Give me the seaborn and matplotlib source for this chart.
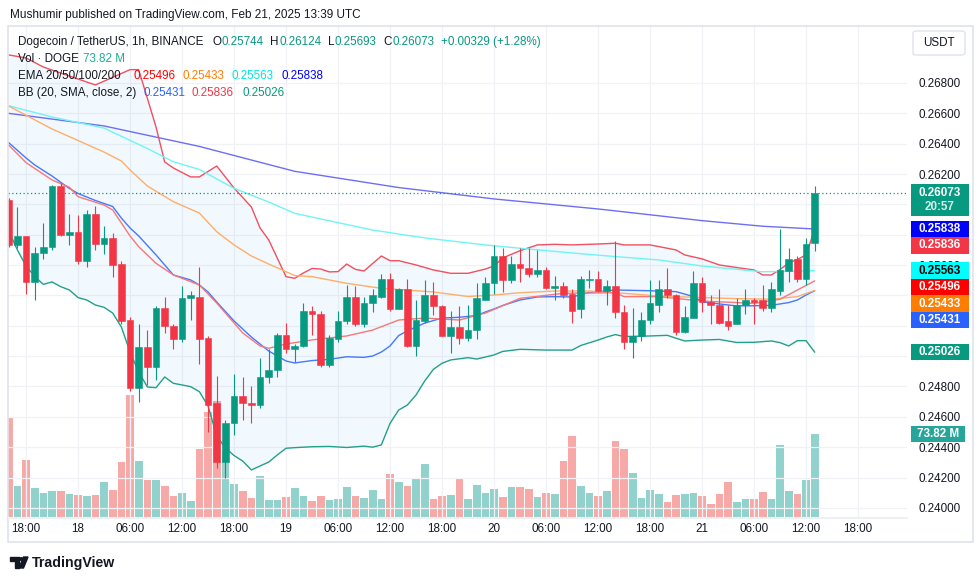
import numpy as np
import pandas as pd
import matplotlib
matplotlib.use("Agg")
import matplotlib.pyplot as plt
import matplotlib.patches as mpatches
import seaborn as sns

# ---------------- data ----------------
# candle index: 0 = Feb 17 18:00 (1h candles), first visible candle at 16:00
start_hour = -2
opens = [0.2603, 0.2573, 0.2579, 0.2549, 0.2568, 0.2572, 0.2612, 0.2580, 0.2582, 0.2563,
         0.2594, 0.2574, 0.2578, 0.2561, 0.2524, 0.2479, 0.2506, 0.2493, 0.2532, 0.2520,
         0.2511, 0.2538, 0.2539, 0.2512, 0.2469, 0.2430, 0.2456, 0.2474, 0.2469, 0.2468,
         0.2486, 0.2491, 0.2514, 0.2505, 0.2507, 0.2530, 0.2528, 0.2494, 0.2511, 0.2523,
         0.2539, 0.2521, 0.2535, 0.2539, 0.2551, 0.2531, 0.2544, 0.2507, 0.2523, 0.2540,
         0.2533, 0.2513, 0.2519, 0.2512, 0.2517, 0.2537, 0.2548, 0.2566, 0.2550, 0.2561,
         0.2558, 0.2554, 0.2557, 0.2545, 0.2546, 0.2541, 0.2531, 0.2550, 0.2551, 0.2543,
         0.2546, 0.2529, 0.2509, 0.2513, 0.2524, 0.2534, 0.2544, 0.2540, 0.2516, 0.2525,
         0.2548, 0.2536, 0.2534, 0.2523, 0.2521, 0.2534, 0.2537, 0.2537, 0.2532, 0.2543,
         0.2556, 0.2564, 0.2551, 0.25744]
highs = [0.2604, 0.2598, 0.2579, 0.2572, 0.2588, 0.2613, 0.2614, 0.2594, 0.2593, 0.2596,
         0.2599, 0.2586, 0.2581, 0.2563, 0.2526, 0.2521, 0.2517, 0.2533, 0.2539, 0.2521,
         0.2546, 0.2543, 0.2559, 0.2513, 0.2487, 0.2458, 0.2488, 0.2486, 0.2480, 0.2499,
         0.2505, 0.2515, 0.2522, 0.2508, 0.2535, 0.2533, 0.2530, 0.2514, 0.2530, 0.2547,
         0.2546, 0.2539, 0.2544, 0.2554, 0.2555, 0.2545, 0.2551, 0.2537, 0.2550, 0.2549,
         0.2534, 0.2530, 0.2533, 0.2534, 0.2548, 0.2552, 0.2573, 0.2571, 0.2566, 0.2571,
         0.2571, 0.2570, 0.2559, 0.2553, 0.2549, 0.2544, 0.2553, 0.2557, 0.2556, 0.2550,
         0.2576, 0.2534, 0.2532, 0.2529, 0.2550, 0.2550, 0.2558, 0.2541, 0.2533, 0.2556,
         0.2552, 0.2540, 0.2544, 0.2534, 0.2538, 0.2544, 0.2538, 0.2547, 0.2549, 0.2584,
         0.2571, 0.2566, 0.2578, 0.26124]
lows = [0.2572, 0.2571, 0.2541, 0.2537, 0.2564, 0.2570, 0.2579, 0.2573, 0.2561, 0.2559,
        0.2570, 0.2567, 0.2552, 0.2521, 0.2477, 0.2470, 0.2481, 0.2484, 0.2515, 0.2505,
        0.2509, 0.2524, 0.2495, 0.2450, 0.2426, 0.2420, 0.2448, 0.2458, 0.2456, 0.2466,
        0.2482, 0.2486, 0.2502, 0.2496, 0.2506, 0.2514, 0.2493, 0.2493, 0.2509, 0.2521,
        0.2520, 0.2519, 0.2529, 0.2538, 0.2530, 0.2531, 0.2506, 0.2500, 0.2522, 0.2527,
        0.2513, 0.2502, 0.2508, 0.2510, 0.2511, 0.2537, 0.2541, 0.2542, 0.2548, 0.2549,
        0.2552, 0.2552, 0.2544, 0.2537, 0.2538, 0.2522, 0.2525, 0.2545, 0.2542, 0.2534,
        0.2525, 0.2505, 0.2499, 0.2510, 0.2521, 0.2529, 0.2538, 0.2514, 0.2515, 0.2525,
        0.2529, 0.2521, 0.2521, 0.2517, 0.2521, 0.2528, 0.2521, 0.2530, 0.2529, 0.2540,
        0.2549, 0.2549, 0.2547, 0.25693]
closes = [0.2573, 0.2579, 0.2549, 0.2568, 0.2572, 0.2612, 0.2580, 0.2582, 0.2563, 0.2594,
          0.2574, 0.2578, 0.2560, 0.2523, 0.2479, 0.2506, 0.2493, 0.2532, 0.2520, 0.2511,
          0.2538, 0.2540, 0.2511, 0.2468, 0.2430, 0.2456, 0.2474, 0.2469, 0.2468, 0.2486,
          0.2491, 0.2514, 0.2505, 0.2507, 0.2530, 0.2528, 0.2494, 0.2512, 0.2523, 0.2539,
          0.2521, 0.2535, 0.2540, 0.2551, 0.2531, 0.2544, 0.2507, 0.2524, 0.2540, 0.2533,
          0.2513, 0.2519, 0.2512, 0.2517, 0.2538, 0.2548, 0.2566, 0.2550, 0.2561, 0.2558,
          0.2554, 0.2557, 0.2545, 0.2546, 0.2540, 0.2530, 0.2551, 0.2551, 0.2543, 0.2546,
          0.2529, 0.2509, 0.2513, 0.2524, 0.2535, 0.2544, 0.2540, 0.2516, 0.2526, 0.2548,
          0.2536, 0.2534, 0.2522, 0.2520, 0.2534, 0.2537, 0.2536, 0.2532, 0.2544, 0.2557,
          0.2564, 0.2551, 0.2574, 0.26073]
volumes_m = [87.7, 27.6, 50.7, 25.8, 21.3, 23.1, 23.1, 20.4, 19.6, 18.7,
             19.6, 31.1, 24.0, 48.9, 108.5, 49.8, 32.9, 32.9, 27.6, 18.7,
             21.3, 14.2, 60.4, 93.3, 103.1, 58.7, 29.3, 23.1, 16.9, 36.4,
             15.1, 15.1, 17.8, 25.8, 18.7, 14.2, 18.7, 15.1, 16.0, 26.7,
             18.7, 16.9, 24.0, 16.0, 38.2, 31.1, 27.6, 33.8, 47.1, 16.0,
             18.7, 19.6, 33.8, 16.0, 28.4, 21.3, 24.9, 17.8, 26.7, 26.7,
             24.9, 17.8, 21.3, 20.4, 49.8, 72.0, 27.6, 21.3, 18.7, 23.1,
             67.6, 60.4, 39.1, 16.9, 24.0, 20.4, 13.3, 19.6, 20.4, 21.3,
             18.7, 11.6, 20.4, 31.1, 13.3, 16.0, 16.0, 22.2, 16.0, 64.0,
             23.1, 20.4, 32.9, 73.82]

# EMA lines (hour index, value)
ema20_h = [-2, 0, 3, 5, 6, 9, 10, 12, 13, 15, 17, 20, 22, 25, 27, 28, 30, 33, 37, 40, 43,
           46, 50, 53, 57, 62, 68, 69, 73, 78, 84, 87, 91]
ema20_v = [0.26391, 0.26275, 0.26161, 0.26113, 0.26051, 0.25996, 0.25963, 0.25792, 0.25721,
           0.25612, 0.25535, 0.25469, 0.25350, 0.25153, 0.25067, 0.25052, 0.25080, 0.25107,
           0.25133, 0.25172, 0.25238, 0.25251, 0.25238, 0.25284, 0.25381, 0.25414, 0.25418,
           0.25392, 0.25392, 0.25363, 0.25348, 0.25375, 0.25496]
ema50_h = [-2, 3, 9, 11, 12, 14, 17, 20, 22, 24, 26, 28, 31, 33, 37, 41, 47, 51, 54, 57,
           61, 65, 69, 73, 78, 82, 86, 89, 91]
ema50_v = [0.26648, 0.26497, 0.26345, 0.26286, 0.26227, 0.26121, 0.26018, 0.25943, 0.25820,
           0.25733, 0.25660, 0.25607, 0.25531, 0.25524, 0.25480, 0.25447, 0.25423, 0.25393,
           0.25403, 0.25418, 0.25429, 0.25429, 0.25414, 0.25396, 0.25386, 0.25379, 0.25375,
           0.25392, 0.25433]
ema100_h = [-2, 3, 9, 14, 17, 20, 24, 28, 31, 40, 46, 53, 57, 63, 68, 73, 78, 85, 91]
ema100_v = [0.26650, 0.26576, 0.26503, 0.26368, 0.26281, 0.26230, 0.26106, 0.26016, 0.25941,
            0.25831, 0.25779, 0.25733, 0.25711, 0.25680, 0.25656, 0.25634, 0.25594, 0.25556,
            0.25563]
ema200_h = [-2, 9, 20, 31, 43, 54, 66, 78, 85, 91]
ema200_v = [0.26600, 0.26517, 0.26382, 0.26218, 0.26111, 0.26036, 0.25970, 0.25893, 0.25856,
            0.25838]

# Bollinger Bands (hour index, value)
bb_upper_h = [-2, 0, 2, 8, 12, 13, 15, 16, 17, 19, 20, 22, 24, 26, 27, 28, 30, 31, 32, 33,
              34, 35, 36, 37, 38, 39, 40, 41, 42, 43, 45, 47, 49, 51, 53, 54, 55, 57, 59, 61,
              63, 66, 68, 69, 72, 74, 75, 76, 78, 80, 82, 84, 85, 86, 87, 88, 89, 90, 91]
bb_upper_v = [0.26985, 0.26965, 0.26905, 0.26787, 0.26888, 0.26888, 0.26510, 0.26280, 0.26240,
              0.26181, 0.26181, 0.26253, 0.26108, 0.25983, 0.25845, 0.25766, 0.25524, 0.25513,
              0.25548, 0.25578, 0.25574, 0.25555, 0.25557, 0.25607, 0.25572, 0.25561, 0.25611,
              0.25660, 0.25629, 0.25629, 0.25601, 0.25568, 0.25546, 0.25546, 0.25574, 0.25594,
              0.25647, 0.25695, 0.25733, 0.25737, 0.25733, 0.25739, 0.25744, 0.25733, 0.25733,
              0.25711, 0.25700, 0.25667, 0.25641, 0.25601, 0.25584, 0.25568, 0.25535, 0.25535,
              0.25571, 0.25614, 0.25637, 0.25667, 0.25836]
bb_basis_h = [-2, 0, 1, 3, 5, 6, 8, 10, 11, 12, 13, 15, 17, 19, 20, 21, 22, 24, 26, 28, 30,
              31, 33, 35, 37, 39, 40, 41, 42, 43, 44, 45, 46, 48, 50, 52, 53, 54, 55, 57, 59,
              61, 63, 65, 68, 72, 75, 77, 78, 80, 82, 84, 86, 88, 89, 90, 91]
bb_basis_v = [0.26407, 0.26306, 0.26260, 0.26187, 0.26105, 0.26072, 0.26026, 0.25986, 0.25910,
              0.25845, 0.25792, 0.25667, 0.25535, 0.25502, 0.25469, 0.25423, 0.25357, 0.25232,
              0.25126, 0.25034, 0.24968, 0.24955, 0.24971, 0.24979, 0.24996, 0.24992, 0.25001,
              0.25027, 0.25067, 0.25136, 0.25166, 0.25192, 0.25218, 0.25251, 0.25256, 0.25268,
              0.25291, 0.25311, 0.25334, 0.25370, 0.25390, 0.25392, 0.25390, 0.25420, 0.25436,
              0.25431, 0.25425, 0.25393, 0.25359, 0.25344, 0.25331, 0.25332, 0.25335, 0.25353,
              0.25370, 0.25403, 0.25431]
bb_lower_h = [-2, -1, 0, 1, 2, 3, 4, 5, 6, 7, 8, 9, 10, 11, 12, 13, 14, 15, 16, 17, 18, 19,
              20, 21, 22, 23, 24, 25, 26, 27, 28, 29, 30, 31, 33, 35, 37, 39, 40, 41, 42, 43,
              44, 45, 46, 47, 48, 49, 51, 52, 53, 54, 55, 57, 60, 63, 64, 66, 67, 68, 69, 72,
              74, 75, 76, 78, 80, 82, 84, 86, 87, 88, 89, 90, 91]
bb_lower_v = [0.25825, 0.25700, 0.25594, 0.25525, 0.25473, 0.25489, 0.25458, 0.25436, 0.25386,
              0.25370, 0.25337, 0.25322, 0.25284, 0.25192, 0.25027, 0.24895, 0.24797, 0.24792,
              0.24863, 0.24821, 0.24810, 0.24799, 0.24766, 0.24672, 0.24474, 0.24395, 0.24345,
              0.24309, 0.24250, 0.24276, 0.24302, 0.24349, 0.24393, 0.24397, 0.24403, 0.24405,
              0.24398, 0.24407, 0.24400, 0.24415, 0.24557, 0.24645, 0.24678, 0.24744, 0.24836,
              0.24913, 0.24953, 0.24975, 0.24990, 0.24981, 0.24994, 0.25008, 0.25031, 0.25045,
              0.25040, 0.25040, 0.25070, 0.25106, 0.25126, 0.25142, 0.25129, 0.25133, 0.25137,
              0.25118, 0.25100, 0.25106, 0.25110, 0.25090, 0.25091, 0.25100, 0.25089, 0.25067,
              0.25102, 0.25102, 0.25026]

# texts from the chart
ema_last = ["0.25496", "0.25433", "0.25563", "0.25838"]
bb_last = ["0.25431", "0.25836", "0.25026"]
ohlc_last = ["0.25744", "0.26124", "0.25693", "0.26073"]
change_text = "+0.00329 (+1.28%)"
vol_last = "73.82 M"
countdown = "20:57"
tick_pos = list(range(0, 97, 6))
tick_labels = ["18:00", "18", "06:00", "12:00", "18:00", "19", "06:00", "12:00", "18:00",
               "20", "06:00", "12:00", "18:00", "21", "06:00", "12:00", "18:00"]
price_levels = [0.240, 0.242, 0.244, 0.246, 0.248, 0.250, 0.252, 0.254, 0.256, 0.258,
                0.260, 0.262, 0.264, 0.266, 0.268]
hidden_levels = [0.250, 0.252, 0.254, 0.258, 0.260]

# ---------------- styling ----------------
sns.set_style("white")
plt.rcParams['font.family'] = ['Liberation Sans', 'DejaVu Sans']
TXT = '#131722'
GREEN = '#089981'
RED = '#F23645'

W, H = 980, 579
fig = plt.figure(figsize=(W / 100, H / 100), dpi=100)
fig.patch.set_facecolor('white')

def fx(x):
    return x / W

def fy(y):
    return 1 - y / H

L, R, T, B = 8, 907, 27, 517
pos = [fx(L), fy(B), fx(R) - fx(L), fy(T) - fy(B)]
axv = fig.add_axes(pos)
ax = fig.add_axes(pos, sharex=axv)
ax.patch.set_visible(False)
axv.set_facecolor('white')

hours = np.arange(start_hour, start_hour + len(closes))
df = pd.DataFrame({'h': hours, 'o': opens, 'hi': highs, 'lo': lows, 'c': closes,
                   'v': np.array(volumes_m) * 1e6})
up = df['c'] >= df['o']

# volume (own scale, drawn beneath the price pane)
vcol = np.where(up, '#92D2CC', '#F7A9A7')
axv.bar(df['h'], df['v'], width=0.88, color=vcol, linewidth=0)
axv.set_ylim(0, 73.82e6 * (B - T) / 83.0)
axv.set_yticks([])
for s in axv.spines.values():
    s.set_visible(False)
axv.tick_params(axis='x', length=0, labelbottom=False)

# limits
ymin, ymax = 0.23940, 0.27169
ax.set_ylim(ymin, ymax)
ax.set_xlim(-2.08, 101.65)

# grid
for lv in price_levels:
    ax.axhline(lv, color='#F0F2F5', lw=0.9, zorder=0)
for tp in tick_pos:
    ax.axvline(tp, color='#F0F2F5', lw=0.9, zorder=0)

# BB fill + lines
poly_x = np.concatenate([bb_upper_h, bb_lower_h[::-1]])
poly_y = np.concatenate([bb_upper_v, bb_lower_v[::-1]])
ax.fill(poly_x, poly_y, color='#2196F3', alpha=0.06, lw=0, zorder=1)
sns.lineplot(x=bb_upper_h, y=bb_upper_v, ax=ax, color='#F0505F', lw=1.0, zorder=2)
sns.lineplot(x=bb_basis_h, y=bb_basis_v, ax=ax, color='#2962FF', lw=1.0, alpha=0.85, zorder=2)
sns.lineplot(x=bb_lower_h, y=bb_lower_v, ax=ax, color='#22A08A', lw=1.0, zorder=2)

# EMA lines
sns.lineplot(x=ema200_h, y=ema200_v, ax=ax, color='#6E6EF2', lw=1.0, zorder=2)
sns.lineplot(x=ema100_h, y=ema100_v, ax=ax, color='#70F4F4', lw=1.0, zorder=2)
sns.lineplot(x=ema50_h, y=ema50_v, ax=ax, color='#FFAE6A', lw=1.0, zorder=2)
sns.lineplot(x=ema20_h, y=ema20_v, ax=ax, color='#F87878', lw=1.0, zorder=2)

# candles
ccol = np.where(up, GREEN, RED)
ax.vlines(df['h'], df['lo'], df['hi'], colors=ccol, lw=0.8, zorder=3)
body_lo = np.minimum(df['o'], df['c'])
body_h = np.abs(df['c'] - df['o'])
ax.bar(df['h'], body_h, bottom=body_lo, width=0.74, color=ccol, edgecolor=ccol,
       linewidth=0.4, zorder=4)

# current price dotted line
ax.axhline(closes[-1], color=GREEN, lw=0.9, ls=(0, (1, 2)), zorder=2)

# axes cosmetics
for s in ax.spines.values():
    s.set_visible(False)
ax.set_xlabel('')
ax.set_ylabel('')
ax.yaxis.tick_right()
ax.set_yticks(price_levels)
ax.set_yticklabels(['' if lv in hidden_levels else f'{lv:.5f}' for lv in price_levels])
ax.tick_params(axis='y', length=0, pad=8.5, labelsize=8.4, labelcolor=TXT)
ax.set_xticks(tick_pos)
ax.set_xticklabels(tick_labels)
ax.tick_params(axis='x', length=0, pad=4.5, labelsize=8.4, labelcolor=TXT)
plt.setp(axv.get_xticklabels(), visible=False)

# frame around chart widget
fig.add_artist(mpatches.Rectangle((fx(8), fy(542)), fx(973) - fx(8), fy(26) - fy(542),
                                  transform=fig.transFigure, fill=False,
                                  edgecolor='#E0E3EB', lw=1.2))
fig.add_artist(mpatches.Rectangle((fx(8), fy(517.5)), fx(907) - fx(8), 0.0001,
                                  transform=fig.transFigure, fill=False,
                                  edgecolor='#EEF0F3', lw=0.8))

# price tags on the right axis
def ypix(p):
    return T + (ymax - p) / (ymax - ymin) * (B - T)

def tag(yc, text, bg, fg, x0=911, x1=969, h=16.5, size=8.4):
    fig.add_artist(mpatches.Rectangle((fx(x0), fy(yc + h / 2)), fx(x1) - fx(x0),
                                      fy(yc - h / 2) - fy(yc + h / 2),
                                      transform=fig.transFigure, color=bg, lw=0, zorder=5))
    fig.text(fx((x0 + x1) / 2), fy(yc), text, ha='center', va='center', color=fg,
             fontsize=size, fontweight='bold', zorder=6)

yc0 = ypix(closes[-1])
fig.add_artist(mpatches.Rectangle((fx(911), fy(yc0 + 22.5)), fx(969) - fx(911),
                                  fy(yc0 - 9) - fy(yc0 + 22.5), transform=fig.transFigure,
                                  color=GREEN, lw=0, zorder=5))
fig.text(fx(940), fy(yc0), ohlc_last[3], ha='center', va='center', color='white',
         fontsize=8.4, fontweight='bold', zorder=6)
fig.text(fx(940), fy(yc0 + 14), countdown, ha='center', va='center', color='#D8F0EA',
         fontsize=8.4, fontweight='bold', zorder=6)

tags = [(float(ema_last[3]), ema_last[3], '#0000FF', 'white'),
        (float(bb_last[1]), bb_last[1], RED, 'white'),
        (float(ema_last[2]), ema_last[2], '#00FFFF', 'black'),
        (float(ema_last[0]), ema_last[0], '#FF0000', 'white'),
        (float(ema_last[1]), ema_last[1], '#FF7D00', 'white'),
        (float(bb_last[0]), bb_last[0], '#2962FF', 'white'),
        (float(bb_last[2]), bb_last[2], GREEN, 'white')]
tags.sort(key=lambda t: -t[0])
prev_bottom = -1e9
for p, txt, bg, fg in tags:
    yc = max(ypix(p), prev_bottom + 8.25)
    tag(yc, txt, bg, fg)
    prev_bottom = yc + 8.25

yv = B - volumes_m[-1] / 73.82 * 83.0
tag(yv, vol_last, '#26A69A', 'white', x0=911, x1=965)

# USDT box
fig.add_artist(mpatches.FancyBboxPatch((fx(913), fy(55)), fx(965) - fx(913), fy(31) - fy(55),
                                       boxstyle='round,pad=0,rounding_size=0.004',
                                       transform=fig.transFigure, facecolor='white',
                                       edgecolor='#E0E3EB', lw=1))
fig.text(fx(939), fy(43), 'USDT', ha='center', va='center', color=TXT, fontsize=8.4)

# header
fig.text(fx(10), fy(15), 'Mushumir published on TradingView.com, Feb 21, 2025 13:39 UTC',
         ha='left', va='center', color=TXT, fontsize=8.5)

# legend lines
renderer = fig.canvas.get_renderer()

def seg(x, y, s, col, size=8.4):
    t = fig.text(fx(x), fy(y), s, ha='left', va='center', color=col, fontsize=size)
    return t.get_window_extent(renderer).x1

seg(18, 42, 'Dogecoin / TetherUS, 1h, BINANCE', TXT)
x = 212
for lab, val in zip(['O', 'H', 'L', 'C'], ohlc_last):
    xe = seg(x, 42, lab, TXT)
    xe = seg(xe + 0.5, 42, val, GREEN)
    x = xe + 6.5
seg(x, 42, change_text, GREEN)
seg(18, 59, 'Vol · DOGE', TXT)
seg(83, 59, vol_last, '#22AB94')
seg(18, 76, 'EMA 20/50/100/200', TXT)
for val, col, xv in zip(ema_last, ['#FF0000', '#FF7D00', '#00E5E5', '#0000FF'],
                        [133, 182, 231, 281]):
    seg(xv, 76, val, col)
seg(18, 93, 'BB (20, SMA, close, 2)', TXT)
for val, col, xv in zip(bb_last, ['#2962FF', RED, GREEN], [143, 192, 242]):
    seg(xv, 93, val, col)

# TradingView logo
fig.add_artist(mpatches.Polygon([[fx(10), fy(557)], [fx(18.5), fy(557)], [fx(18.5), fy(568)],
                                 [fx(14.5), fy(568)], [fx(14.5), fy(561)], [fx(10), fy(561)]],
                                closed=True, transform=fig.transFigure, color='#131722'))
fig.add_artist(mpatches.Circle((fx(21.2), fy(559)), 0.0021, transform=fig.transFigure,
                               color='#131722'))
fig.add_artist(mpatches.Polygon([[fx(23.5), fy(557)], [fx(28), fy(557)], [fx(23.5), fy(568)],
                                 [fx(19), fy(568)]],
                                closed=True, transform=fig.transFigure, color='#131722'))
fig.text(fx(32), fy(562.5), 'TradingView', ha='left', va='center', color=TXT,
         fontsize=10.2, fontweight='bold')

fig.savefig('out.png', dpi=100, facecolor='white')
